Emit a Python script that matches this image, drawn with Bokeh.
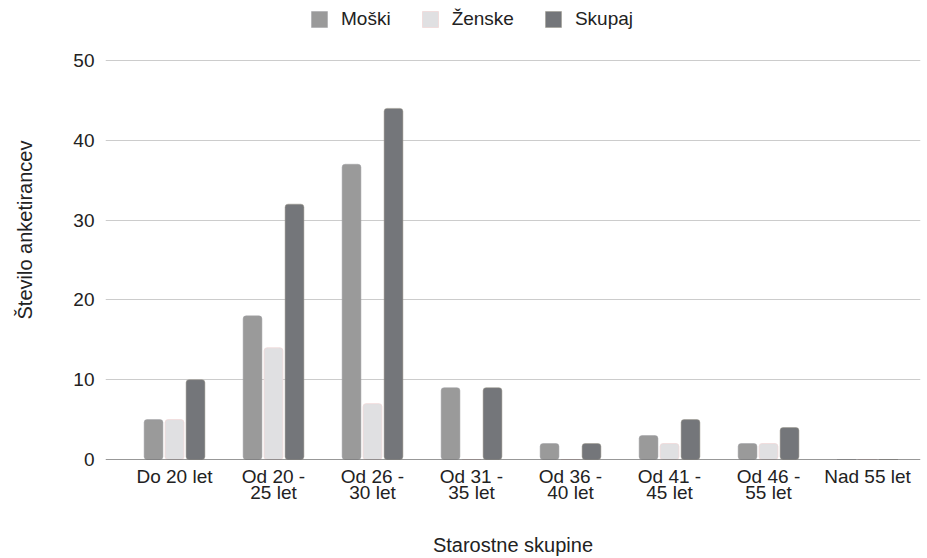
from bokeh.plotting import figure
from bokeh.models import ColumnDataSource, Range1d, Legend, LegendItem, FixedTicker
from bokeh.transform import dodge
from bokeh.embed import file_html
from bokeh.resources import INLINE

categories = ["Do 20 let", "Od 20 -\n25 let", "Od 26 -\n30 let", "Od 31 -\n35 let",
              "Od 36 -\n40 let", "Od 41 -\n45 let", "Od 46 -\n55 let", "Nad 55 let"]
moski = [5, 18, 37, 9, 2, 3, 2, 0]
zenske = [5, 14, 7, 0, 0, 2, 2, 0]
skupaj = [10, 32, 44, 9, 2, 5, 4, 0]
series_names = ["Moški", "Ženske", "Skupaj"]
y_ticks = [0, 10, 20, 30, 40, 50]

FONT = "Liberation Sans"
FS = "19px"
x = list(range(len(categories)))

p = figure(width=927, height=558, output_backend="svg", toolbar_location=None,
           x_range=Range1d(-0.697, 7.535), y_range=Range1d(0, 57.52),
           min_border_left=105, min_border_right=7, min_border_top=0, min_border_bottom=10)
p.outline_line_color = None
p.background_fill_color = "white"
p.border_fill_color = "white"

src = ColumnDataSource(dict(x=x, m=moski, z=zenske, s=skupaj))
r1 = p.vbar(x=dodge("x", -0.212), top="m", width=0.19, source=src,
            fill_color="#9a9a9a", line_color="#a0a0a4", line_width=0.5, border_radius=3)
r2 = p.vbar(x=dodge("x", 0.0), top="z", width=0.19, source=src,
            fill_color="#e0e0e2", line_color="#f0d8d8", line_width=0.8, border_radius=3)
r3 = p.vbar(x=dodge("x", 0.212), top="s", width=0.19, source=src,
            fill_color="#74767a", line_color="#9a968a", line_width=0.5, border_radius=3)

p.xgrid.grid_line_color = None
p.ygrid.grid_line_color = "#cccccc"
p.ygrid.ticker = FixedTicker(ticks=y_ticks[1:])
p.hspan(y=[0], line_color="#333333", line_width=1.2)

p.yaxis.ticker = FixedTicker(ticks=y_ticks)
p.yaxis.axis_line_color = None
p.yaxis.major_tick_line_color = None
p.yaxis.minor_tick_line_color = None
p.yaxis.major_label_text_font = FONT
p.yaxis.major_label_text_font_size = FS
p.yaxis.major_label_text_color = "#222222"
p.yaxis.major_label_standoff = 5
p.yaxis.axis_label = "Število anketirancev"
p.yaxis.axis_label_text_font = FONT
p.yaxis.axis_label_text_font_size = "20px"
p.yaxis.axis_label_text_font_style = "normal"
p.yaxis.axis_label_text_color = "#222222"
p.yaxis.axis_label_standoff = 34

p.xaxis.ticker = FixedTicker(ticks=x)
p.xaxis.major_label_overrides = {i: c for i, c in enumerate(categories)}
p.xaxis.axis_line_color = None
p.xaxis.major_tick_line_color = None
p.xaxis.minor_tick_line_color = None
p.xaxis.major_label_text_font = FONT
p.xaxis.major_label_text_font_size = FS
p.xaxis.major_label_text_color = "#222222"
p.xaxis.major_label_text_line_height = 0.78
p.xaxis.major_label_standoff = 0
p.xaxis.axis_label = "Starostne skupine"
p.xaxis.axis_label_text_font = FONT
p.xaxis.axis_label_text_font_size = "20px"
p.xaxis.axis_label_text_font_style = "normal"
p.xaxis.axis_label_text_color = "#222222"
p.xaxis.axis_label_standoff = 28

legend = Legend(items=[LegendItem(label=series_names[0], renderers=[r1]),
                       LegendItem(label=series_names[1], renderers=[r2]),
                       LegendItem(label=series_names[2], renderers=[r3])],
                orientation="horizontal", location=(204, 429),
                label_text_font=FONT, label_text_font_size=FS, label_text_color="#222222",
                glyph_width=20, glyph_height=20, spacing=29, label_standoff=12,
                border_line_color=None, background_fill_alpha=0, padding=4, margin=0)
p.add_layout(legend, "center")

open("out.html", "w").write(file_html(p, INLINE))
